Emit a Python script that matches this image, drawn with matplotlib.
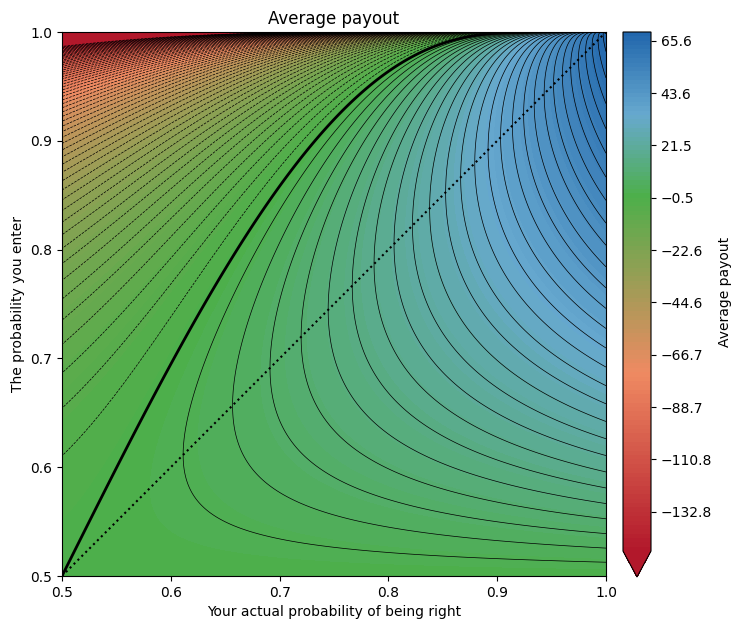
import numpy as np
import matplotlib
matplotlib.use("Agg")
import matplotlib.pyplot as plt
from matplotlib.colors import LinearSegmentedColormap, TwoSlopeNorm

# payout = 100 * (p*ln(2q) + (1-p)*ln(2(1-q)))  (log score, 100 points scale)
scale = 100.0
p = np.linspace(0.5, 1.0, 600)          # actual probability of being right
q = np.linspace(0.5001, 0.99995, 800)   # probability entered
vmin = -149.36
vmax = scale * np.log(2)
n_levels = 120
line_step = 2.5
line_min = -147.5
cmap_colors = ["#b2182b", "#ef8a62", "#4daf4a", "#67a9cf", "#2166ac"]

P, Q = np.meshgrid(p, q)
Z = scale * (P * np.log(2 * Q) + (1 - P) * np.log(2 * (1 - Q)))

levels = np.linspace(vmin, vmax, n_levels)
line_levels = np.arange(line_min, vmax, line_step)
cmap = LinearSegmentedColormap.from_list("payout", cmap_colors)
norm = TwoSlopeNorm(vcenter=0, vmin=vmin, vmax=vmax)

fig = plt.figure(figsize=(7.4, 6.3), dpi=100)
ax = fig.add_axes([62 / 740, 54 / 630, 544 / 740, 544 / 630])
cax = fig.add_axes([623 / 740, 53 / 630, 28 / 740, 545 / 630])

cf = ax.contourf(P, Q, Z, levels=levels, cmap=cmap, norm=norm, extend="min")
ax.contour(P, Q, Z, levels=line_levels, colors="k", linewidths=0.5)
ax.contour(P, Q, Z, levels=[0], colors="k", linewidths=2)
ax.plot(p, p, "k:", linewidth=1.5)

ax.set_xlim(0.5, 1.0)
ax.set_ylim(0.5, 1.0)
ax.set_title("Average payout")
ax.set_xlabel("Your actual probability of being right")
ax.set_ylabel("The probability you enter")

cb = fig.colorbar(cf, cax=cax)
cb.set_label("Average payout")

plt.savefig("out.png", dpi=100)
